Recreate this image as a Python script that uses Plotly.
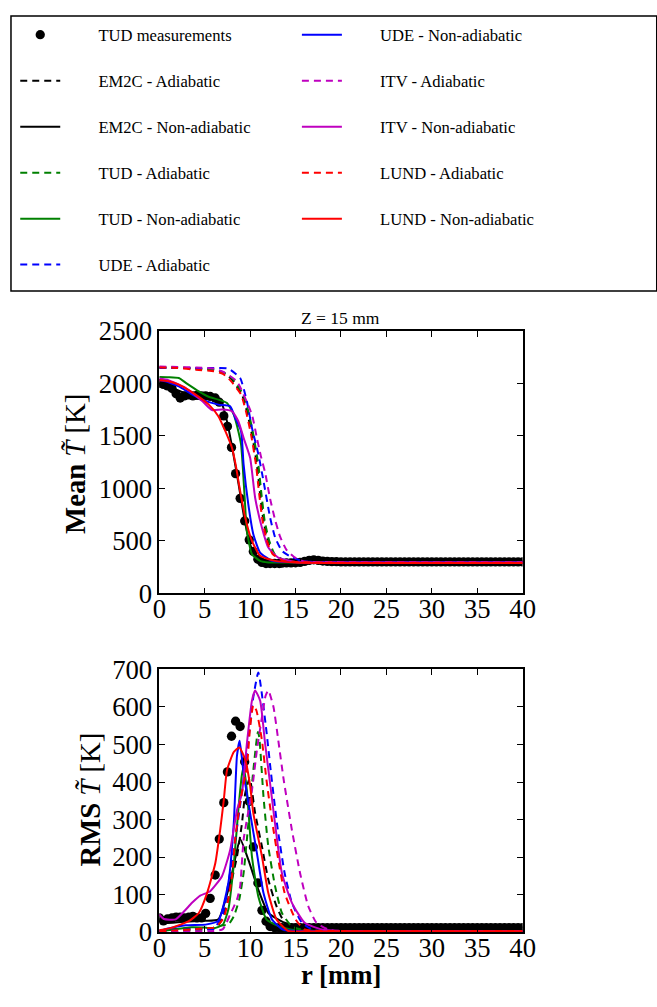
import plotly.graph_objects as go

# ---------------- data ----------------
r_meas = [0.0, 0.45, 0.9, 1.4, 1.85, 2.3, 2.75, 3.25, 3.7, 4.15, 4.65, 5.1, 5.6, 6.15, 6.6,
          7.1, 7.5, 7.95, 8.4, 8.9, 9.4, 9.9, 10.35, 10.85, 11.3, 11.75, 12.2, 12.7, 13.2,
          13.5, 14.0, 14.5, 15.0, 15.5, 16.0, 16.5, 17.0, 17.5, 18.0, 18.5, 19.0, 19.5, 20.0,
          20.5, 21.0, 21.5, 22.0, 22.5, 23.0, 23.5, 24.0, 24.5, 25.0, 25.5, 26.0, 26.5, 27.0,
          27.5, 28.0, 28.5, 29.0, 29.5, 30.0, 30.5, 31.0, 31.5, 32.0, 32.5, 33.0, 33.5, 34.0,
          34.5, 35.0, 35.5, 36.0, 36.5, 37.0, 37.5, 38.0, 38.5, 39.0, 39.5, 40.0]
mean_meas = [2000, 1990, 1975, 1950, 1900, 1860, 1880, 1890, 1880, 1885, 1880, 1880, 1875, 1860, 1820,
             1690, 1590, 1390, 1140, 905, 690, 510, 400, 325, 295, 285, 285, 285, 285,
             288, 290, 290, 292, 295, 305, 315, 320, 315, 308, 305, 303, 302, 300,
             300, 300, 300, 300, 300, 300, 300, 300, 300, 300, 300, 300, 300, 300,
             300, 300, 300, 300, 300, 300, 300, 300, 300, 300, 300, 300, 300, 300,
             300, 300, 300, 300, 300, 300, 300, 300, 300, 300, 300, 300]
rms_meas = [38, 30, 35, 38, 40, 40, 38, 40, 42, 38, 38, 50, 90, 152, 248,
            345, 427, 522, 562, 548, 454, 348, 227, 131, 58, 29, 15, 12, 12,
            12, 12, 12, 12, 12, 12, 12, 12, 12, 12, 12, 12, 12, 12,
            12, 12, 12, 12, 12, 12, 12, 12, 12, 12, 12, 12, 12, 12,
            12, 12, 12, 12, 12, 12, 12, 12, 12, 12, 12, 12, 12, 12,
            12, 12, 12, 12, 12, 12, 12, 12, 12, 12, 12, 12]

# Mean temperature, models
r_em2c_ad_m = [0, 2, 4, 6, 7, 7.6, 8.0, 9.1, 9.64, 10.2, 10.74, 11.1, 11.47, 11.95, 12.57, 13.8, 15, 20, 30, 40]
T_em2c_ad_m = [2150, 2150, 2140, 2130, 2105, 2066, 2035, 1893, 1734, 1513, 1228, 943, 690, 500, 374, 310, 300, 295, 295, 295]
r_em2c_na_m = [0, 1, 2.15, 3, 4.35, 5.8, 6.9, 7.5, 8.0, 8.73, 9.28, 9.8, 10.35, 11.3, 12.5, 15, 20, 30, 40]
T_em2c_na_m = [1990, 1975, 1930, 1905, 1893, 1860, 1800, 1620, 1400, 1038, 754, 531, 389, 326, 300, 295, 295, 295, 295]

r_tud_ad_m = [0, 2, 4, 6, 7, 7.75, 8.15, 9.25, 9.8, 10.35, 10.9, 11.25, 11.6, 12.1, 12.7, 13.9, 15, 20, 30, 40]
T_tud_ad_m = [2150, 2150, 2140, 2130, 2105, 2066, 2035, 1893, 1734, 1513, 1228, 943, 690, 500, 374, 310, 300, 295, 295, 295]
r_tud_na_m = [0, 1, 2.15, 3, 4.35, 5.5, 6.5, 7.45, 8.2, 8.6, 9.0, 9.4, 9.64, 10.2, 11.1, 12, 15, 20, 40]
T_tud_na_m = [2060, 2058, 2050, 2000, 1924, 1870, 1845, 1813, 1703, 1580, 1418, 911, 595, 374, 310, 295, 295, 295, 295]

r_ude_ad_m = [0, 2, 4, 6, 7.6, 8.9, 9.64, 10.2, 10.9, 11.47, 12.2, 12.76, 13.5, 14.6, 16, 20, 30, 40]
T_ude_ad_m = [2145, 2145, 2145, 2145, 2140, 2050, 1829, 1576, 1326, 1070, 721, 531, 405, 342, 305, 298, 298, 298]
r_ude_na_m = [0, 1, 2.15, 3.5, 4.7, 6.5, 7.8, 8.36, 9.0, 9.28, 9.8, 10.35, 11.1, 12.4, 14, 20, 40]
T_ude_na_m = [2030, 2010, 1970, 1900, 1845, 1797, 1781, 1670, 1544, 1228, 848, 564, 389, 310, 298, 295, 295]

r_itv_ad_m = [0, 2, 4, 6, 7, 8.55, 10.2, 10.74, 11.2, 11.65, 12.2, 12.75, 13.3, 14.0, 14.95, 16, 20, 30, 40]
T_itv_ad_m = [2160, 2155, 2150, 2140, 2110, 2018, 1700, 1480, 1300, 1150, 900, 700, 540, 415, 340, 305, 298, 298, 298]
r_itv_na_m = [0, 1, 2.9, 4.75, 5.8, 6.9, 8.0, 8.7, 9.28, 10.0, 10.55, 11.3, 12.0, 13.1, 15, 20, 40]
T_itv_na_m = [2045, 2030, 1955, 1829, 1745, 1750, 1734, 1639, 1481, 1291, 911, 626, 437, 342, 300, 295, 295]

r_lund_ad_m = [0, 2, 4, 6, 7, 7.5, 7.9, 9.0, 9.54, 10.1, 10.64, 11.0, 11.37, 11.85, 12.47, 13.7, 15, 20, 30, 40]
T_lund_ad_m = [2150, 2145, 2130, 2115, 2090, 2055, 2020, 1893, 1734, 1513, 1228, 943, 690, 500, 374, 310, 300, 292, 292, 292]
r_lund_na_m = [0, 1, 2.15, 4.0, 5.45, 6.5, 7.27, 8.0, 8.4, 8.9, 9.46, 10.2, 11.1, 12.75, 15, 20, 40]
T_lund_na_m = [2030, 2020, 1987, 1893, 1797, 1687, 1544, 1386, 1228, 975, 721, 500, 358, 310, 295, 290, 290]

# RMS temperature, models
r_em2c_ad_s = [0, 2, 4, 5, 6, 6.5, 7, 7.6, 8.0, 8.55, 9.1, 9.46, 9.95, 10.55, 11.3, 12.0, 12.9, 13.8, 15, 17, 20, 40]
S_em2c_ad_s = [5, 8, 10, 10, 12, 18, 40, 90, 140, 201, 290, 370, 410, 317, 228, 140, 69, 25, 8, 4, 3, 3]
r_em2c_na_s = [0, 0.5, 1.5, 3, 5, 6.5, 7.6, 8.4, 8.9, 9.8, 10.9, 12.0, 13.8, 15.7, 18, 20, 40]
S_em2c_na_s = [30, 25, 25, 28, 30, 34, 113, 201, 248, 193, 113, 51, 25, 15, 8, 5, 5]

r_tud_ad_s = [0, 2, 4, 5.5, 6.5, 7, 7.6, 8.2, 8.8, 9.28, 9.64, 10.35, 10.85, 11.0, 11.47, 12.0, 12.75, 13.5, 14.6, 16, 20, 40]
S_tud_ad_s = [0, 3, 5, 8, 15, 18, 20, 42, 87, 157, 246, 431, 533, 520, 361, 228, 122, 51, 15, 5, 3, 3]
r_tud_na_s = [0, 2, 3.5, 5, 6, 7, 7.6, 8.2, 8.73, 9.1, 9.3, 9.64, 10.2, 10.9, 11.8, 13.1, 15, 20, 40]
S_tud_na_s = [2, 8, 13, 12, 10, 20, 60, 180, 334, 420, 440, 378, 201, 95, 34, 16, 5, 3, 3]

r_ude_ad_s = [0, 2, 3.5, 5, 6, 7.0, 7.6, 8.2, 8.8, 9.4, 9.8, 10.35, 10.9, 11.7, 12.3, 13.0, 13.8, 14.6, 15.7, 17, 20, 40]
S_ude_ad_s = [0, 5, 8, 8, 8, 50, 130, 220, 320, 430, 511, 626, 692, 555, 423, 281, 157, 78, 25, 5, 3, 3]
r_ude_na_s = [0, 1, 2.9, 5.1, 6.5, 7.6, 8.2, 8.55, 8.85, 9.28, 10.0, 10.74, 11.47, 12.4, 13.6, 15, 20, 40]
S_ude_na_s = [3, 10, 18, 20, 30, 131, 290, 470, 510, 423, 317, 211, 104, 34, 7, 3, 3, 3]

r_itv_ad_s = [0, 3, 6, 7, 7.8, 8.55, 8.9, 9.28, 10.2, 10.74, 11.3, 11.7, 12.0, 12.57, 13.1, 13.7, 14.6, 15.5, 16.4, 17.3, 18.6, 20, 40]
S_itv_ad_s = [0, 2, 3, 8, 47, 87, 122, 246, 378, 484, 573, 630, 644, 600, 511, 405, 272, 157, 69, 25, 7, 3, 3]
r_itv_na_s = [0, 0.5, 1.8, 3.6, 4.5, 5.6, 6.9, 7.8, 8.55, 9.1, 9.64, 10.2, 10.55, 11.1, 11.65, 12.2, 13.5, 14.6, 16, 17.9, 20, 40]
S_itv_na_s = [47, 35, 34, 78, 97, 109, 149, 219, 325, 370, 502, 617, 644, 617, 502, 396, 157, 78, 25, 7, 3, 3]

r_lund_ad_s = [0, 2, 4, 5, 6, 6.5, 7.1, 7.6, 8.0, 8.36, 9.0, 9.64, 10.0, 10.35, 10.7, 11.3, 11.8, 12.4, 13.1, 13.8, 15, 16, 20, 40]
S_lund_ad_s = [2, 5, 8, 10, 12, 20, 38, 87, 149, 250, 360, 440, 546, 605, 590, 511, 405, 299, 193, 104, 34, 7, 3, 3]
r_lund_na_s = [0, 1.4, 3.25, 4.35, 5.26, 6.17, 6.7, 7.1, 7.45, 8.2, 8.8, 9.46, 10.0, 10.35, 11.3, 12.0, 12.9, 14.2, 16, 20, 40]
S_lund_na_s = [5, 12, 29, 51, 104, 184, 272, 352, 431, 480, 492, 460, 390, 317, 202, 104, 34, 3, 2, 2, 2]

x_ticks = [0, 5, 10, 15, 20, 25, 30, 35, 40]

# ---------------- figure ----------------
W, H = 657, 1007
K, OX, OY = 0.974, 4.0, 12.0   # page-to-photo mapping observed for this window


def fx(s):
    """horizontal target pixel -> paper fraction"""
    return ((s - OX) / K) / W


def fy(s):
    """vertical target pixel (from top) -> paper fraction"""
    return 1 - ((s - OY) / K) / H


def fs(v):
    return round(v / K, 1)


BLACK, GREEN, BLUE, MAG, RED = "#000000", "#008000", "#0000ff", "#bf00bf", "#ff0000"
SERIF = "Liberation Serif"
DASH = "7px,5px"
PAD = "\u00a0" * 8

series = [
    ("EM2C - Adiabatic", BLACK, DASH, r_em2c_ad_m, T_em2c_ad_m, r_em2c_ad_s, S_em2c_ad_s, "legend"),
    ("EM2C - Non-adiabatic", BLACK, "solid", r_em2c_na_m, T_em2c_na_m, r_em2c_na_s, S_em2c_na_s, "legend"),
    ("TUD - Adiabatic", GREEN, DASH, r_tud_ad_m, T_tud_ad_m, r_tud_ad_s, S_tud_ad_s, "legend"),
    ("TUD - Non-adiabatic", GREEN, "solid", r_tud_na_m, T_tud_na_m, r_tud_na_s, S_tud_na_s, "legend"),
    ("UDE - Adiabatic", BLUE, DASH, r_ude_ad_m, T_ude_ad_m, r_ude_ad_s, S_ude_ad_s, "legend"),
    ("UDE - Non-adiabatic", BLUE, "solid", r_ude_na_m, T_ude_na_m, r_ude_na_s, S_ude_na_s, "legend2"),
    ("ITV - Adiabatic", MAG, DASH, r_itv_ad_m, T_itv_ad_m, r_itv_ad_s, S_itv_ad_s, "legend2"),
    ("ITV - Non-adiabatic", MAG, "solid", r_itv_na_m, T_itv_na_m, r_itv_na_s, S_itv_na_s, "legend2"),
    ("LUND - Adiabatic", RED, DASH, r_lund_ad_m, T_lund_ad_m, r_lund_ad_s, S_lund_ad_s, "legend2"),
    ("LUND - Non-adiabatic", RED, "solid", r_lund_na_m, T_lund_na_m, r_lund_na_s, S_lund_na_s, "legend2"),
]

fig = go.Figure()

fig.add_trace(go.Scatter(x=r_meas, y=mean_meas, mode="markers", name=PAD + "TUD measurements",
                         marker=dict(color="black", size=9.3), legend="legend",
                         legendgroup="meas", xaxis="x", yaxis="y"))
fig.add_trace(go.Scatter(x=r_meas, y=rms_meas, mode="markers", showlegend=False,
                         marker=dict(color="black", size=9.3), xaxis="x2", yaxis="y2"))

for name, col, dash, rm, tm, rs, ss, lg in series:
    fig.add_trace(go.Scatter(x=rm, y=tm, mode="lines", name=PAD + name, legend=lg, legendgroup=name,
                             line=dict(color=col, dash=dash, width=2, shape="spline", smoothing=0.5),
                             xaxis="x", yaxis="y"))
    fig.add_trace(go.Scatter(x=rs, y=ss, mode="lines", showlegend=False, legendgroup=name,
                             line=dict(color=col, dash=dash, width=2, shape="spline", smoothing=0.5),
                             xaxis="x2", yaxis="y2"))

axis_common = dict(showline=True, linecolor="black", linewidth=1.5, mirror="ticks",
                   ticks="inside", ticklen=6, tickwidth=1, tickcolor="black",
                   showgrid=False, zeroline=False,
                   tickfont=dict(family=SERIF, size=fs(26), color="black"))

xdom = [fx(157), fx(522)]
leg_common = dict(xanchor="left", yanchor="top", bgcolor="rgba(0,0,0,0)",
                  font=dict(family=SERIF, size=fs(16.2), color="black"), itemwidth=40,
                  traceorder="grouped", tracegroupgap=21.4)
fig.update_layout(
    width=W, height=H, margin=dict(l=0, r=0, t=0, b=0),
    paper_bgcolor="white", plot_bgcolor="white",
    xaxis=dict(domain=xdom, range=[0, 40], tickvals=x_ticks, anchor="y",
               ticklabelstandoff=-9, **axis_common),
    yaxis=dict(domain=[fy(592.7), fy(329)], range=[0, 2500], dtick=500, anchor="x", **axis_common),
    xaxis2=dict(domain=xdom, range=[0, 40], tickvals=x_ticks, anchor="y2",
                ticklabelstandoff=-9, **axis_common),
    yaxis2=dict(domain=[fy(932.7), fy(669)], range=[0, 700], dtick=100, anchor="x2", **axis_common),
    legend=dict(x=8.5 / W, y=1 - 2.5 / H, **leg_common),
    legend2=dict(x=299 / W, y=1 - 2.5 / H, **leg_common),
    showlegend=True,
)

# legend frame
fig.add_shape(type="rect", xref="paper", yref="paper", x0=fx(8), x1=1.02, y0=fy(289), y1=1 - 1 / H,
              line=dict(color="black", width=1.5), fillcolor="rgba(0,0,0,0)")

fig.add_annotation(text="Z = 15 mm", xref="paper", yref="paper", x=fx(339.5), y=fy(316),
                   xanchor="center", yanchor="middle",
                   showarrow=False, font=dict(family=SERIF, size=fs(17), color="black"))
fig.add_annotation(text="<b>Mean</b> <i>T\u0303</i> [K]", xref="paper", yref="paper", x=fx(73), y=fy(463),
                   xanchor="center", yanchor="middle",
                   textangle=-90, showarrow=False, font=dict(family=SERIF, size=fs(28), color="black"))
fig.add_annotation(text="<b>RMS</b> <i>T\u0303</i> [K]", xref="paper", yref="paper", x=fx(87), y=fy(800),
                   xanchor="center", yanchor="middle",
                   textangle=-90, showarrow=False, font=dict(family=SERIF, size=fs(28), color="black"))
fig.add_annotation(text="<b>r [mm]</b>", xref="paper", yref="paper", x=fx(339.5), y=0,
                   xanchor="center", yanchor="bottom",
                   showarrow=False, font=dict(family=SERIF, size=fs(26), color="black"))

fig.write_html("out.html", config={"displayModeBar": False},
               post_script="document.body.style.margin='0';document.body.style.overflow='hidden';")
